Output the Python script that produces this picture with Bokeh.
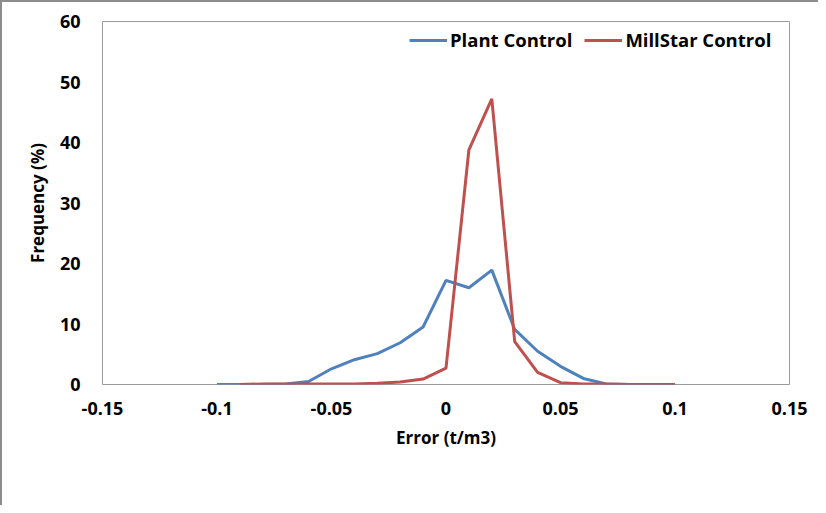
from bokeh.plotting import figure
from bokeh.models import Range1d, FixedTicker, CustomJSTickFormatter, Legend, LegendItem
from bokeh.embed import file_html
from bokeh.resources import INLINE

# Data
plant_x = [-0.1, -0.09, -0.08, -0.07, -0.06, -0.05, -0.04, -0.03, -0.02, -0.01,
           0.0, 0.01, 0.02, 0.03, 0.04, 0.05, 0.06, 0.07, 0.08, 0.09, 0.1]
plant_y = [0.0, 0.0, 0.0, 0.1, 0.5, 2.6, 4.1, 5.1, 6.9, 9.5,
           17.2, 16.0, 18.9, 9.1, 5.5, 3.0, 1.0, 0.1, 0.0, 0.0, 0.0]

mill_x = [-0.09, -0.08, -0.07, -0.06, -0.05, -0.04, -0.03, -0.02, -0.01,
          0.0, 0.01, 0.02, 0.03, 0.04, 0.05, 0.06, 0.07, 0.08, 0.09, 0.1]
mill_y = [0.0, 0.1, 0.1, 0.1, 0.1, 0.1, 0.2, 0.4, 0.9,
          2.7, 38.8, 47.2, 7.1, 2.0, 0.3, 0.1, 0.1, 0.0, 0.0, 0.0]

x_ticks = [-0.15, -0.1, -0.05, 0.0, 0.05, 0.1, 0.15]
y_ticks = [0, 10, 20, 30, 40, 50, 60]

FONT = "Open Sans"

p = figure(width=818, height=505, output_backend="svg", toolbar_location=None,
           x_range=Range1d(-0.15, 0.15), y_range=Range1d(0, 60),
           min_border_left=100, min_border_right=31, min_border_top=19, min_border_bottom=123)

p.styles = {"border-left": "2px solid #8c8c8c", "border-top": "2px solid #8c8c8c",
            "box-sizing": "border-box"}

p.grid.visible = False
p.outline_line_color = "#9a9a9a"
p.outline_line_width = 1

r1 = p.line(plant_x, plant_y, line_color="#4F81BD", line_width=3)
r2 = p.line(mill_x, mill_y, line_color="#C0504D", line_width=3)

for ax in (p.xaxis[0], p.yaxis[0]):
    ax.axis_line_color = None
    ax.major_tick_line_color = None
    ax.minor_tick_line_color = None
    ax.major_label_text_font = FONT
    ax.major_label_text_font_style = "bold"
    ax.major_label_text_font_size = "18px"
    ax.major_label_text_color = "#000000"
    ax.axis_label_text_font = FONT
    ax.axis_label_text_font_style = "bold"
    ax.axis_label_text_font_size = "17px"
    ax.axis_label_text_color = "#000000"

p.xaxis.ticker = FixedTicker(ticks=x_ticks)
p.yaxis.ticker = FixedTicker(ticks=y_ticks)
p.xaxis.formatter = CustomJSTickFormatter(code="return String(Number(tick.toFixed(2)));")
p.xaxis.axis_label = "Error (t/m3)"
p.yaxis.axis_label = "Frequency (%)"
p.xaxis.major_label_standoff = 11
p.yaxis.major_label_standoff = 16
p.xaxis.axis_label_standoff = 8
p.yaxis.axis_label_standoff = 8

legend = Legend(items=[LegendItem(label="Plant Control", renderers=[r1]),
                       LegendItem(label="MillStar Control", renderers=[r2])],
                location=(307, 332), orientation="horizontal")
legend.border_line_color = None
legend.background_fill_alpha = 0
legend.label_text_font = FONT
legend.label_text_font_style = "bold"
legend.label_text_font_size = "18.5px"
legend.label_text_color = "#000000"
legend.glyph_width = 38
legend.label_standoff = 3
legend.spacing = 12
legend.margin = 0
legend.padding = 0
p.add_layout(legend)

open("out.html", "w").write(file_html(p, INLINE))
